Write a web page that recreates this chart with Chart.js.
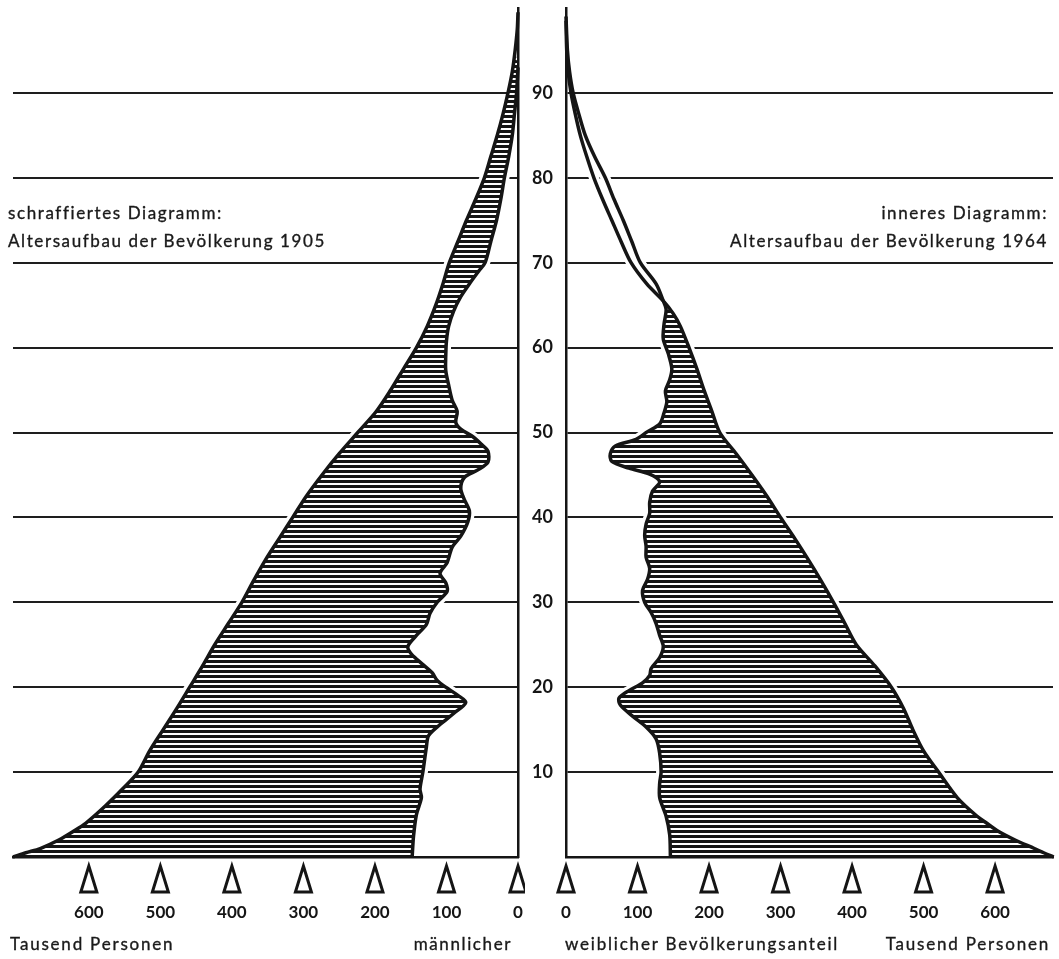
<!DOCTYPE html>
<html>
<head>
<meta charset="utf-8">
<script src="https://cdn.jsdelivr.net/npm/chart.js@4.4.1/dist/chart.umd.min.js"></script>
<style>
  body { margin: 0; background: #fff; }
  #wrap { position: relative; width: 1059px; height: 959px; overflow: hidden; font-family: Lato, sans-serif; color: #1a1a1a; }
  canvas { position: absolute; top: 0; }
  .t { position: absolute; font-size: 17px; letter-spacing: 1.6px; line-height: 28px; white-space: nowrap;
       -webkit-text-stroke: 0.35px #1a1a1a; }
</style>
</head>
<body>
<div id="wrap">
  <canvas id="left" width="525" height="959" style="left:0"></canvas>
  <canvas id="right" width="539" height="959" style="left:520px"></canvas>
  <div class="t" style="left:8px; top:199px">schraffiertes Diagramm:<br>Altersaufbau der Bevölkerung 1905</div>
  <div class="t" style="right:11px; top:199px; text-align:right">inneres Diagramm:<br>Altersaufbau der Bevölkerung 1964</div>
  <div class="t" style="left:10px; top:930px; letter-spacing:1.8px">Tausend Personen</div>
  <div class="t" style="right:547px; top:930px; text-align:right">männlicher</div>
  <div class="t" style="left:565px; top:930px; letter-spacing:1.8px">weiblicher Bevölkerungsanteil</div>
  <div class="t" style="right:9px; top:930px; text-align:right; letter-spacing:1.8px">Tausend Personen</div>
</div>
<script>
// values in thousands of persons, by age in years
var ageM1905 = [0, 0.5, 1, 2, 3, 4, 6, 8, 10, 12.5, 15, 17.5, 20, 22.5, 25, 27.5, 30, 32.5, 35, 37.5, 40, 42.5, 45, 47.5, 50, 52.5, 55, 57.5, 60, 62.5, 65, 67.5, 70, 72.5, 75, 77.5, 80, 82.5, 85, 87.5, 90, 92.5, 95, 97.5, 99.5];
var valM1905 = [706, 688, 668, 642, 622, 604, 577, 553, 531, 515, 496, 477, 459, 441, 424, 405, 386, 370, 353, 334, 315, 296, 274, 250, 224, 198, 178, 160, 142, 127, 115, 105, 96, 84, 72, 59, 47, 38, 29, 21, 14, 8, 4, 1, 0];

var ageM1964 = [0, 2.5, 5, 7, 8, 10, 13, 14.3, 15.6, 16.9, 18.2, 19.1, 20, 20.8, 21.7, 22.6, 23.9, 24.8, 26.1, 27.4, 28.7, 30, 31.3, 32.3, 33.4, 34.7, 36.5, 37.8, 39.5, 40.8, 42.1, 43.4, 44.7, 45.6, 46.5, 47.8, 48.6, 49.5, 50.4, 51.2, 52.5, 53.8, 55.6, 57.3, 59, 60.8, 62.5, 64.3, 66, 67.5, 69, 70, 72.5, 75, 77.5, 80, 82.5, 85, 87.5, 90, 93];
var valM1964 = [148, 146, 142, 135, 137, 133, 128, 125, 109, 90, 73, 85, 101, 113, 120, 132, 149, 154, 142, 128, 123, 113, 99, 101, 109, 99, 92, 80, 70, 68, 75, 80, 75, 56, 42, 42, 51, 63, 80, 87, 85, 92, 97, 101, 101, 100, 97, 90, 80, 68, 55, 46, 38, 30, 24, 19, 13, 8, 5, 2, 0];

var ageF1905 = [0, 0.5, 1, 2, 3, 4, 5, 7, 10, 12.5, 15, 17.5, 20, 22.5, 25, 27.5, 30, 32.5, 35, 37.5, 40, 42.5, 45, 47.5, 50, 52.5, 55, 57.5, 60, 62.5, 64, 65.5, 67.5, 70, 72.5, 75, 77.5, 80, 82.5, 85, 87.5, 90, 92.5, 95, 98.5];
var valF1905 = [682, 668, 655, 628, 605, 588, 572, 547, 521, 500, 485, 472, 455, 432, 406, 390, 374, 357, 339, 320, 300, 281, 260, 238, 215, 204, 193, 183, 172, 160, 150, 136, 113, 91, 77, 64, 51, 39, 29, 20, 13, 7, 3, 1, 0];

var ageF1964 = [0, 2.6, 4.8, 7, 8.7, 10, 12.2, 13.9, 15.3, 16.6, 17.9, 18.7, 19.6, 20.5, 21.4, 22.2, 23.5, 24.8, 26.1, 27.5, 28.8, 30, 31.4, 32.7, 34, 35.3, 36.6, 37.9, 39.2, 40.5, 41.8, 43.1, 44.2, 45.1, 45.8, 46.6, 47.5, 48.4, 49.2, 50.1, 51, 52.3, 53.6, 54.9, 56.2, 57.5, 59.3, 61, 62.7, 64.5, 65.5, 67.5, 70, 72.5, 75, 77.5, 80, 82.5, 85, 87.5, 90, 92.5, 95, 99];
var valF1964 = [146, 145, 140, 131, 131, 133, 131, 126, 112, 93, 76, 74, 88, 107, 117, 119, 131, 136, 131, 126, 119, 110, 107, 114, 117, 112, 112, 110, 112, 117, 117, 121, 131, 117, 88, 64, 62, 69, 98, 114, 131, 137, 141, 139, 145, 148, 143, 136, 137, 140, 136, 126, 104, 92, 80, 67, 55, 40, 27, 18, 10, 5, 2, 0];

// women 1905 are hatched only up to where the 1964 line passes outside
var hatchTopF = 65.5;

var tickValues = [0, 100, 200, 300, 400, 500, 600];

function pts(ages, vals) {
  return ages.map(function (a, i) { return { x: vals[i], y: a }; });
}

function hatchPattern(ctx) {
  var c = document.createElement('canvas');
  c.width = 8; c.height = 5;
  var g = c.getContext('2d');
  g.fillStyle = '#fff'; g.fillRect(0, 0, 8, 5);
  g.fillStyle = '#151515'; g.fillRect(0, 0, 8, 3);
  return ctx.createPattern(c, 'repeat');
}

var triangles = {
  id: 'triangles',
  afterDraw: function (chart) {
    var sx = chart.scales.x, ctx = chart.ctx, b = chart.chartArea.bottom;
    ctx.save();
    ctx.strokeStyle = '#151515';
    ctx.lineWidth = 3;
    ctx.lineJoin = 'miter';
    sx.ticks.forEach(function (t) {
      var px = sx.getPixelForValue(t.value);
      ctx.beginPath();
      ctx.moveTo(px, b + 9);
      ctx.lineTo(px + 8, b + 35);
      ctx.lineTo(px - 8, b + 35);
      ctx.closePath();
      ctx.stroke();
    });
    ctx.restore();
  }
};

function noPad(s) {
  s.paddingTop = 0; s.paddingBottom = 0; s.paddingLeft = 0; s.paddingRight = 0;
}

function side(id, outer, inner, hatch, maxVal, isLeft) {
  var cv = document.getElementById(id);
  var ctx = cv.getContext('2d');
  var line = function (data, w, col, order) {
    return { data: data, borderColor: col, borderWidth: w, pointRadius: 0, fill: false,
             tension: 0.3, order: order, clip: false, borderJoinStyle: 'round' };
  };
  var ds = [
    line(outer, 3.5, '#151515', 1),
    line(inner, 3.5, '#151515', 1),
    { data: hatch, borderColor: 'rgba(0,0,0,0)', borderWidth: 1, pointRadius: 0, tension: 0.3,
      fill: 1, backgroundColor: hatchPattern(ctx), order: 2 },
    line(outer.filter(function (p) { return p.y < 88; }), 10, '#fff', 3),
    line(inner.filter(function (p) { return p.y < 88; }), 10, '#fff', 3)
  ];
  return new Chart(cv, {
    type: 'line',
    data: { datasets: ds },
    plugins: [triangles],
    options: {
      indexAxis: 'y',
      responsive: false,
      animation: false,
      events: [],
      layout: { autoPadding: false,
                padding: isLeft ? { left: 13, top: 8, right: 0, bottom: 0 } : { left: 0, top: 8, right: 6, bottom: 0 } },
      plugins: { legend: { display: false }, tooltip: { enabled: false } },
      scales: {
        x: {
          type: 'linear', min: 0, max: maxVal, reverse: isLeft,
          grid: { display: false, drawTicks: false },
          border: { display: true, color: '#151515', width: 2.5, z: 1 },
          afterBuildTicks: function (s) { s.ticks = tickValues.map(function (v) { return { value: v }; }); },
          afterFit: function (s) { s.height = 102; noPad(s); },
          ticks: { padding: 45, color: '#151515', font: { family: 'Lato', weight: 'bold', size: 17 },
                   maxRotation: 0, autoSkip: false, callback: function (v) { return String(v); } }
        },
        y: {
          type: 'linear', min: 0, max: 100, position: isLeft ? 'right' : 'left',
          grid: { drawTicks: false, lineWidth: 2,
                  color: function (c) { return (c.tick && c.tick.value > 0 && c.tick.value < 100) ? '#1e1e1e' : 'rgba(0,0,0,0)'; } },
          border: { display: true, color: '#151515', width: 2.5, z: 1 },
          afterFit: function (s) { s.width = isLeft ? 7 : 46; noPad(s); },
          ticks: { display: !isLeft, stepSize: 10, crossAlign: 'center', padding: 13, color: '#151515',
                   font: { family: 'Lato', weight: 'bold', size: 18 },
                   callback: function (v) { return (v > 0 && v < 100) ? String(v) : ''; } }
        }
      }
    }
  });
}

side('left', pts(ageM1905, valM1905), pts(ageM1964, valM1964), pts(ageM1905, valM1905), 706, true);
side('right', pts(ageF1905, valF1905), pts(ageF1964, valF1964),
     pts(ageF1905, valF1905).filter(function (p) { return p.y <= hatchTopF; }), 681, false);
</script>
</body>
</html>
